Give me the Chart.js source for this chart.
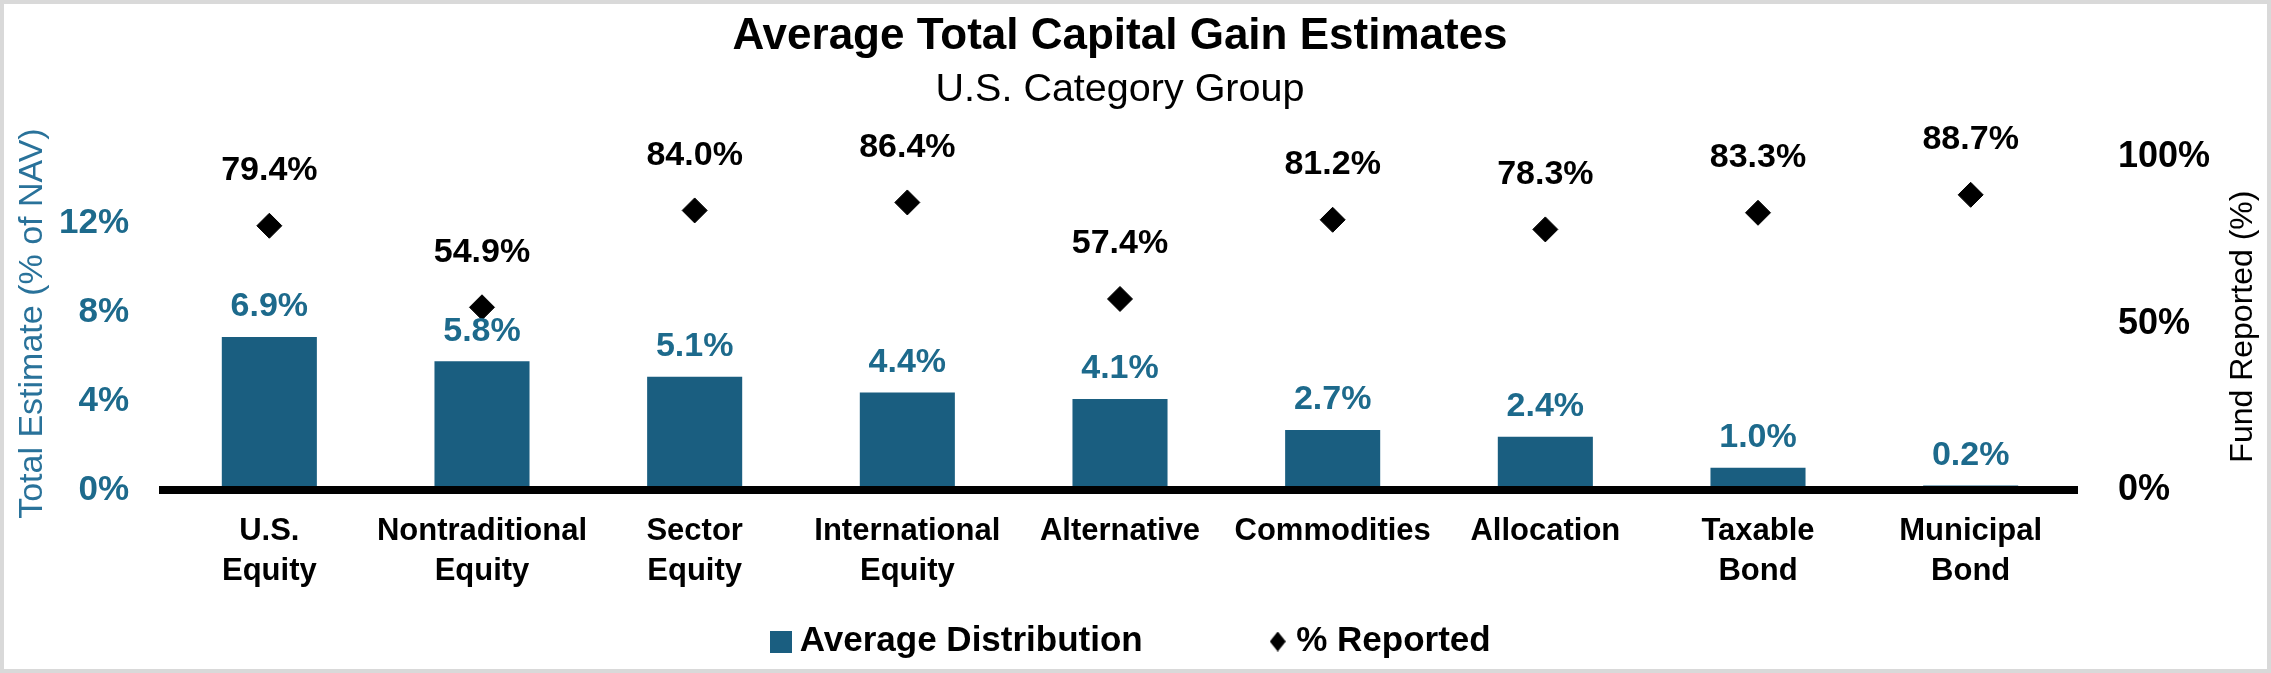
<!DOCTYPE html>
<html>
<head>
<meta charset="utf-8">
<script src="https://cdn.jsdelivr.net/npm/chart.js@4.4.1/dist/chart.umd.min.js"></script>
<style>
  html, body { margin: 0; padding: 0; background: #fff; }
  .frame { width: 2271px; height: 673px; box-sizing: border-box; border: 4px solid #d9d9d9; background: #fff; }
  .frame canvas { display: block; }
</style>
</head>
<body>
<div class="frame"><canvas id="chart" width="2263" height="665"></canvas></div>
<script>
// data
const categories = [
    ['U.S.', 'Equity'],
    ['Nontraditional', 'Equity'],
    ['Sector', 'Equity'],
    ['International', 'Equity'],
    'Alternative',
    'Commodities',
    'Allocation',
    ['Taxable', 'Bond'],
    ['Municipal', 'Bond']
];
const avgDistribution = [6.9, 5.8, 5.1, 4.4, 4.1, 2.7, 2.4, 1.0, 0.2];
const pctReported = [79.4, 54.9, 84.0, 86.4, 57.4, 81.2, 78.3, 83.3, 88.7];
const leftTicks = [0, 4, 8, 12];
const rightTicks = [0, 50, 100];

const barColor = '#1a5e80';
const tealText = '#1d6a8c';
const FONT = '"Liberation Sans", Arial, sans-serif';

Chart.defaults.font.family = FONT;

// little legend markers
function makeSquare() {
    const c = document.createElement('canvas');
    c.width = 22; c.height = 22;
    const g = c.getContext('2d');
    g.fillStyle = barColor;
    g.fillRect(0, 0, 22, 22);
    return c;
}
function makeDiamond() {
    const c = document.createElement('canvas');
    c.width = 16; c.height = 20;
    const g = c.getContext('2d');
    g.fillStyle = '#000';
    g.beginPath();
    g.moveTo(8, 0); g.lineTo(16, 10); g.lineTo(8, 20); g.lineTo(0, 10);
    g.closePath();
    g.fill();
    return c;
}
const squareMark = makeSquare();
const diamondMark = makeDiamond();

// value labels above bars and diamonds + right axis title (reads bottom-to-top)
const valueLabels = {
    id: 'valueLabels',
    afterDatasetsDraw(chart) {
        const ctx = chart.ctx;
        ctx.save();
        ctx.textAlign = 'center';
        ctx.textBaseline = 'middle';
        ctx.font = 'bold 34px ' + FONT;
        ctx.fillStyle = tealText;
        chart.getDatasetMeta(0).data.forEach((bar, i) => {
            ctx.fillText(avgDistribution[i].toFixed(1) + '%', bar.x, bar.y - 30);
        });
        ctx.fillStyle = '#000';
        chart.getDatasetMeta(1).data.forEach((pt, i) => {
            ctx.fillText(pctReported[i].toFixed(1) + '%', pt.x, pt.y - 55);
        });

        const y1 = chart.scales.y1;
        const area = chart.chartArea;
        ctx.translate(y1.right - 24, (area.top + area.bottom) / 2 + 3);
        ctx.rotate(-Math.PI / 2);
        ctx.font = '32px ' + FONT;
        ctx.fillText('Fund Reported (%)', 0, 0);
        ctx.restore();
    }
};

const ctx = document.getElementById('chart').getContext('2d');
const chart = new Chart(ctx, {
    data: {
        labels: categories,
        datasets: [
            {
                type: 'bar',
                label: 'Average Distribution',
                data: avgDistribution,
                backgroundColor: barColor,
                yAxisID: 'y',
                barPercentage: 0.447,
                categoryPercentage: 1,
                order: 2
            },
            {
                type: 'line',
                label: '% Reported',
                data: pctReported,
                yAxisID: 'y1',
                showLine: false,
                pointStyle: 'rectRot',
                pointRadius: 12.5,
                pointBackgroundColor: '#000',
                pointBorderColor: '#000',
                pointBorderWidth: 1,
                order: 1
            }
        ]
    },
    options: {
        responsive: false,
        animation: false,
        events: [],
        layout: { padding: 0 },
        scales: {
            x: {
                grid: { display: false, drawTicks: false },
                border: { display: true, color: '#000', width: 8, z: 1 },
                ticks: {
                    color: '#000',
                    font: { size: 31, weight: 'bold', lineHeight: 1.29 },
                    // mirrored so the labels are not clipped to the thin axis box
                    mirror: true,
                    padding: -61,
                    maxRotation: 0,
                    autoSkip: false
                },
                afterFit(scale) { scale.height = 0; }
            },
            y: {
                position: 'left',
                min: 0,
                max: 15,
                grid: { display: false, drawTicks: false },
                border: { display: false },
                ticks: {
                    color: tealText,
                    font: { size: 35, weight: 'bold' },
                    padding: 34,
                    callback: v => v + '%'
                },
                afterBuildTicks(scale) { scale.ticks = leftTicks.map(v => ({ value: v })); },
                afterFit(scale) { scale.width = 159; },
                title: {
                    display: true,
                    text: 'Total Estimate (% of NAV)',
                    color: '#29729a',
                    font: { size: 34, weight: 'normal' },
                    padding: { top: 8, bottom: 0 }
                }
            },
            y1: {
                position: 'right',
                min: 0,
                max: 100,
                grid: { display: false, drawTicks: false },
                border: { display: false },
                ticks: {
                    color: '#000',
                    font: { size: 36, weight: 'bold' },
                    padding: 41,
                    callback: v => v + '%'
                },
                afterBuildTicks(scale) { scale.ticks = rightTicks.map(v => ({ value: v })); },
                afterFit(scale) { scale.width = 190; }
            }
        },
        plugins: {
            title: {
                display: true,
                text: 'Average Total Capital Gain Estimates',
                color: '#000',
                fullSize: false,
                font: { size: 44, weight: 'bold' },
                padding: { top: 6, bottom: 2 }
            },
            subtitle: {
                display: true,
                text: 'U.S. Category Group',
                color: '#000',
                fullSize: false,
                font: { size: 39.5, weight: 'normal' },
                padding: { top: 2, bottom: 43 }
            },
            legend: {
                position: 'bottom',
                labels: {
                    usePointStyle: true,
                    pointStyleWidth: 2,
                    padding: 134,
                    color: '#000',
                    font: { size: 35, weight: 'bold' },
                    generateLabels() {
                        return [
                            { text: 'Average Distribution', pointStyle: squareMark, fillStyle: barColor, strokeStyle: barColor, lineWidth: 0, hidden: false, datasetIndex: 0, fontColor: '#000' },
                            { text: '% Reported', pointStyle: diamondMark, fillStyle: '#000', strokeStyle: '#000', lineWidth: 0, hidden: false, datasetIndex: 1, fontColor: '#000' }
                        ];
                    }
                }
            },
            tooltip: { enabled: false }
        }
    },
    plugins: [valueLabels]
});
</script>
</body>
</html>
